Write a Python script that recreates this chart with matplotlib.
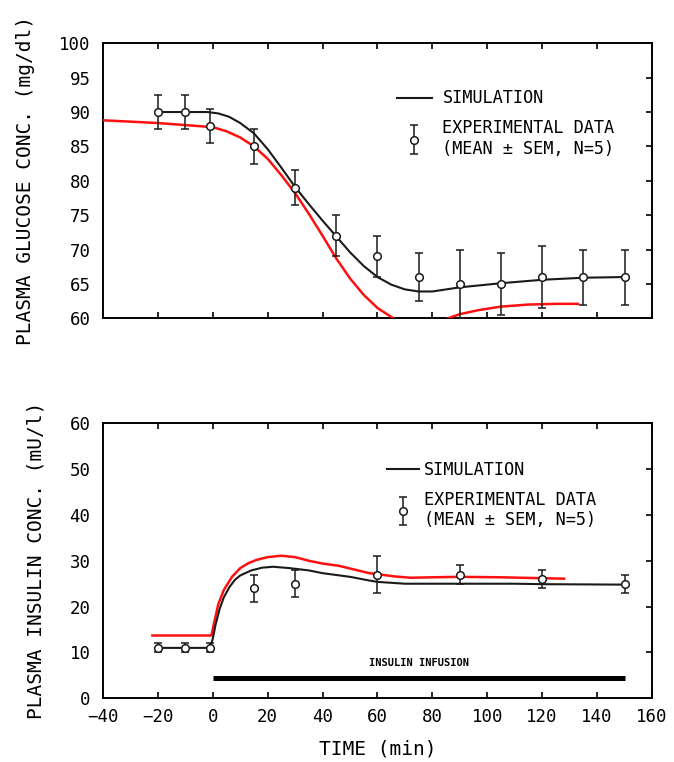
import matplotlib
matplotlib.use('Agg')
import matplotlib.pyplot as plt
from matplotlib.legend_handler import HandlerErrorbar
from matplotlib.lines import Line2D

#glucose experimental data (mean +- sem)
glu_t = [-20, -10, -1, 15, 30, 45, 60, 75, 90, 105, 120, 135, 150]
glu_mean = [90, 90, 88, 85, 79, 72, 69, 66, 65, 65, 66, 66, 66]
glu_sem = [2.5, 2.5, 2.5, 2.5, 2.5, 3, 3, 3.5, 5, 4.5, 4.5, 4, 4]

#glucose simulation (black)
glu_sim_t = [-20, -10, -2, 2, 6, 10, 15, 20, 25, 30, 35, 40, 45, 50, 55, 60,
             65, 70, 75, 80, 85, 90, 100, 105, 120, 135, 150]
glu_sim = [90, 90, 90, 89.8, 89.3, 88.4, 86.9, 84.6, 81.9, 79.1, 76.6, 74.2,
           71.9, 69.6, 67.6, 66.0, 64.9, 64.2, 63.9, 63.9, 64.2, 64.5, 64.9,
           65.1, 65.6, 65.9, 66.0]

#glucose second simulation (red)
glu_red_t = [-40, -20, 0, 5, 10, 15, 20, 25, 30, 35, 40, 45, 50, 55, 60, 65,
             70, 75, 80, 85, 90, 97, 105, 115, 125, 133]
glu_red = [88.8, 88.4, 87.8, 87.2, 86.3, 85.0, 83.2, 80.8, 78.2, 75.2, 72.0,
           68.7, 65.8, 63.4, 61.5, 60.2, 59.0, 58.5, 58.8, 59.9, 60.6, 61.2,
           61.7, 62.0, 62.1, 62.1]

#insulin experimental data
ins_t = [-20, -10, -1, 15, 30, 60, 90, 120, 150]
ins_mean = [11, 11, 11, 24, 25, 27, 27, 26, 25]
ins_sem = [1, 1, 1, 3, 3, 4, 2, 2, 2]

#insulin simulation (black)
ins_sim_t = [-20, -10, -1, 0, 1, 2.5, 4, 6, 8, 10, 14, 18, 22, 28, 35, 40,
             50, 57, 60, 70, 90, 110, 120, 150]
ins_sim = [11, 11, 11, 13, 16, 19.5, 22, 24.2, 25.8, 26.8, 27.9, 28.5, 28.7,
           28.4, 27.9, 27.3, 26.5, 25.7, 25.4, 25.0, 25.0, 25.0, 24.9, 24.8]

#insulin second simulation (red)
ins_red_t = [-22, -0.5, 0.5, 2, 4, 7, 10, 13, 16, 20, 25, 30, 35, 40, 46, 57,
             60, 66, 72, 80, 90, 105, 120, 128]
ins_red = [13.7, 13.7, 16.5, 20.5, 23.6, 26.5, 28.4, 29.5, 30.2, 30.8, 31.1,
           30.8, 30.0, 29.4, 28.9, 27.3, 27.1, 26.6, 26.3, 26.4, 26.5, 26.4,
           26.2, 26.1]

#infusion period
infusion_t = [0, 150]
infusion_level = 4.5

xticks = list(range(-40, 161, 20))
glu_yticks = list(range(60, 101, 5))
ins_yticks = list(range(0, 61, 10))

mono = 'DejaVu Sans Mono'
plt.rcParams['font.family'] = mono

fig = plt.figure(figsize=(6.74, 7.62), dpi=100)
ax1 = fig.add_axes([0.1528, 0.5823, 0.8145, 0.3609])
ax2 = fig.add_axes([0.1528, 0.0836, 0.8145, 0.3609])

def style(ax, yticks, ylabel):
    ax.set_xlim(-40, 160)
    ax.set_ylim(yticks[0], yticks[-1])
    ax.set_xticks(xticks)
    ax.set_yticks(yticks)
    for s in ax.spines.values():
        s.set_linewidth(1.4)
    ax.tick_params(direction='in', length=4, width=1.2, top=True, right=True,
                   labelsize=12.5, colors='black')
    ax.tick_params(axis='y', which='both', left=False, pad=9)
    ax.tick_params(axis='x', pad=7)
    ax.set_ylabel(ylabel, fontsize=14, labelpad=17)

style(ax1, glu_yticks, 'PLASMA GLUCOSE CONC. (mg/dl)')
style(ax2, ins_yticks, 'PLASMA INSULIN CONC. (mU/l)')
ax1.tick_params(axis='x', labelbottom=False)
ax2.set_xlabel('TIME (min)', fontsize=14, labelpad=10)

#glucose panel
ax1.plot(glu_red_t, glu_red, color='#ff1010', lw=1.8, zorder=3)
ax1.plot(glu_sim_t, glu_sim, color='#1a1a1a', lw=1.5, zorder=3)
eb1 = ax1.errorbar(glu_t, glu_mean, yerr=glu_sem, fmt='o', ms=5.5, mfc='white',
                   mec='#1a1a1a', mew=1.1, ecolor='#1a1a1a', elinewidth=1.1,
                   capsize=3, capthick=1.1, zorder=4)

#insulin panel
ax2.plot(ins_red_t, ins_red, color='#ff1010', lw=1.8, zorder=3)
ax2.plot(ins_sim_t, ins_sim, color='#1a1a1a', lw=1.5, zorder=3)
eb2 = ax2.errorbar(ins_t, ins_mean, yerr=ins_sem, fmt='o', ms=5.5, mfc='white',
                   mec='#1a1a1a', mew=1.1, ecolor='#1a1a1a', elinewidth=1.1,
                   capsize=3, capthick=1.1, zorder=4)
ax2.plot(infusion_t, [infusion_level, infusion_level], color='black', lw=3.6,
         solid_capstyle='butt')
ax2.text(sum(infusion_t) / 2, infusion_level + 3.3, 'INSULIN INFUSION',
         ha='center', va='center', fontsize=7.5, fontweight='bold')

#legends
sim_handle = Line2D([], [], color='#1a1a1a', lw=1.5)
exp_label = 'EXPERIMENTAL DATA\n(MEAN \u00b1 SEM, N=5)'
hmap = {type(eb1): HandlerErrorbar(yerr_size=0.85)}

ax1.legend([sim_handle, eb1], ['SIMULATION', exp_label], loc='upper left',
           bbox_to_anchor=(0.535, 0.832), frameon=False, fontsize=12.2,
           handlelength=2.1, handletextpad=0.6, borderpad=0, borderaxespad=0,
           labelspacing=0.7, handler_map=hmap)
ax2.legend([sim_handle, eb2], ['SIMULATION', exp_label], loc='upper left',
           bbox_to_anchor=(0.517, 0.864), frameon=False, fontsize=12.2,
           handlelength=1.9, handletextpad=0.3, borderpad=0, borderaxespad=0,
           labelspacing=0.7, handler_map=hmap)

fig.savefig('out.png', dpi=100)
